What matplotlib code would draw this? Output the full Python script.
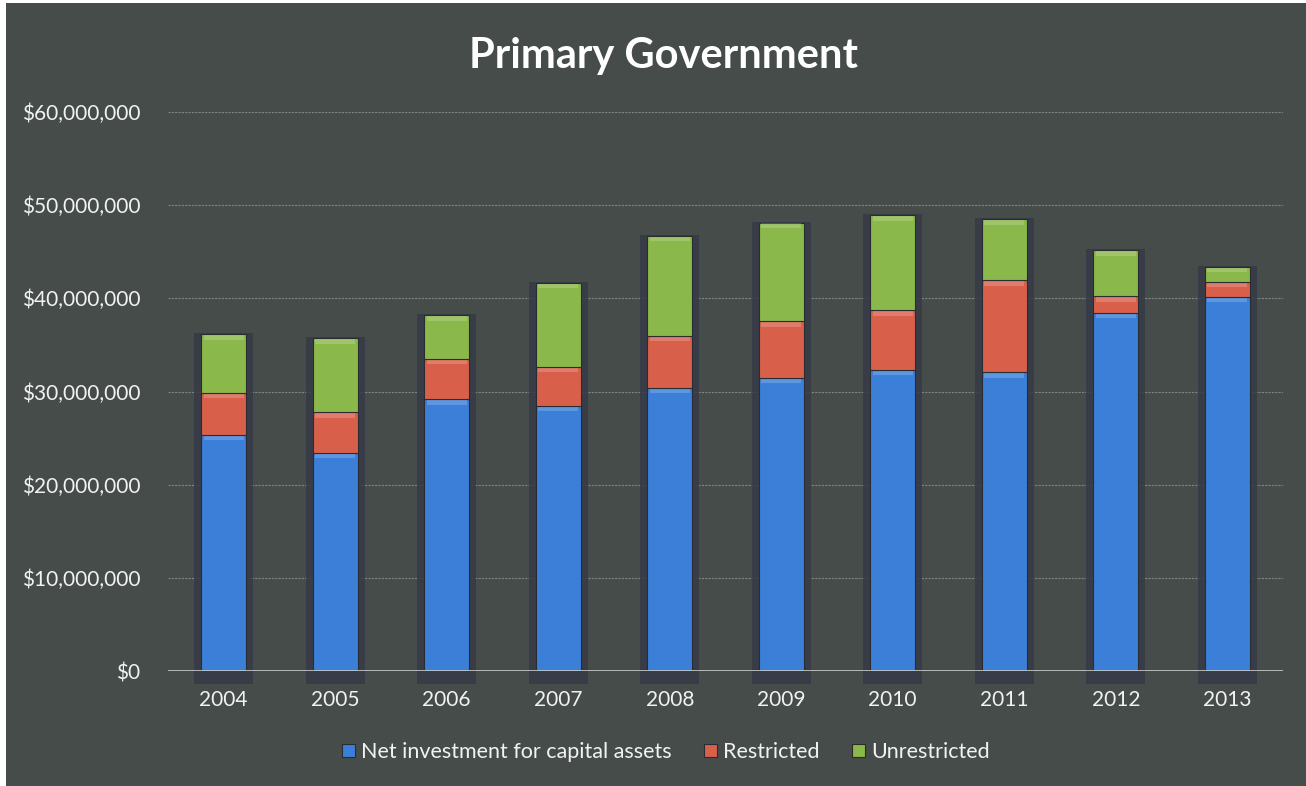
import matplotlib.pyplot as plt
import numpy as np
from matplotlib.patches import Rectangle
from matplotlib.ticker import FuncFormatter

# Net position of the primary government, by year (dollars)
years = ["2004", "2005", "2006", "2007", "2008", "2009", "2010", "2011", "2012", "2013"]
net_investment = [25350000, 23420000, 29150000, 28470000, 30400000,
                  31470000, 32300000, 32050000, 38440000, 40160000]
restricted = [4510000, 4370000, 4330000, 4180000, 5580000,
              6080000, 6400000, 9870000, 1800000, 1610000]
unrestricted = [6270000, 7910000, 4720000, 9010000, 10730000,
                10590000, 10230000, 6550000, 4930000, 1610000]

series_names = ["Net investment for capital assets", "Restricted", "Unrestricted"]
series_colors = ["#3b7fd9", "#d8604b", "#8bb84a"]

BG = "#454c4a"
TEXT = "#f2f2f2"

plt.rcParams["font.family"] = ["Lato", "DejaVu Sans"]

fig = plt.figure(figsize=(13.06, 7.86), dpi=100, facecolor=BG)
ax = fig.add_axes([0.1286, 0.1463, 0.8538, 0.7112])
ax.set_facecolor(BG)

# thin white margin along the left and top edges of the page
fig.patches.append(Rectangle((0, 0), 6 / 1306, 1, transform=fig.transFigure,
                             facecolor="white", edgecolor="none", zorder=0))
fig.patches.append(Rectangle((0, 1 - 3 / 786), 1, 3 / 786, transform=fig.transFigure,
                             facecolor="white", edgecolor="none", zorder=0))

x = np.arange(len(years))
width = 0.40

# dark drop-shadow box behind each stacked column
totals = np.array(net_investment) + np.array(restricted) + np.array(unrestricted)
ax.bar(x, totals + 1500000, width=width + 0.13, bottom=-1400000,
       color="#363a46", alpha=0.85, zorder=2, clip_on=False)

bottom = np.zeros(len(years))
for values, name, color in zip([net_investment, restricted, unrestricted],
                               series_names, series_colors):
    ax.bar(x, values, width=width, bottom=bottom, color=color, label=name,
           edgecolor="#2a2d30", linewidth=0.8, zorder=3)
    # soft highlight along the top edge of each segment
    ax.bar(x, np.minimum(values, 500000), width=width * 0.9,
           bottom=bottom + np.array(values) - np.minimum(values, 500000) - 80000,
           color="white", alpha=0.18, linewidth=0, zorder=4)
    bottom += np.array(values)

ax.set_ylim(0, 60000000)
ax.set_xlim(-0.5, len(years) - 0.5)
ax.set_yticks(np.arange(0, 60000001, 10000000))
ax.yaxis.set_major_formatter(FuncFormatter(lambda v, pos: f"${v:,.0f}"))
ax.set_xticks(x)
ax.set_xticklabels(years)

ax.grid(axis="y", color="#7d8481", linewidth=0.8, linestyle=(0, (2, 1)), zorder=1)
ax.axhline(0, color="#c9cccb", linewidth=1.2, zorder=5)

for side in ["top", "right", "left", "bottom"]:
    ax.spines[side].set_visible(False)
ax.tick_params(axis="both", length=0, colors=TEXT, labelsize=15)
ax.tick_params(axis="y", pad=20)
ax.tick_params(axis="x", pad=14)

fig.text(0.508, 0.929, "Primary Government", ha="center", va="center",
         color="white", fontsize=30, fontweight="bold")

leg = fig.legend(loc="center", bbox_to_anchor=(0.51, 0.043), ncol=3, frameon=False,
                 fontsize=15.5, handlelength=0.6, handleheight=0.6,
                 handletextpad=0.3, columnspacing=1.5)
for text in leg.get_texts():
    text.set_color(TEXT)

fig.savefig("out.png", dpi=100, facecolor=BG)
